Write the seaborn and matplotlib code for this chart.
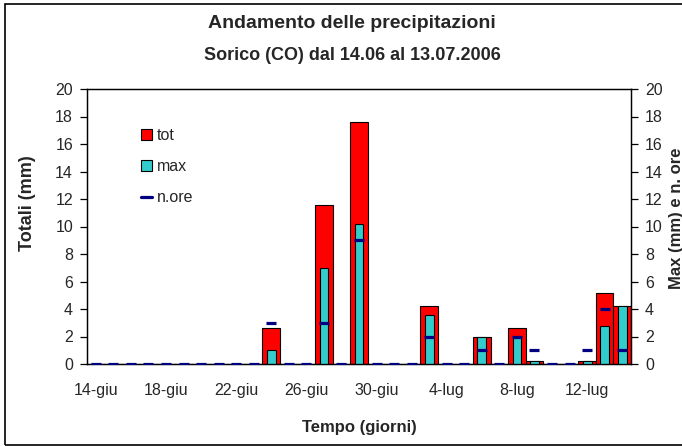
import matplotlib
matplotlib.use("Agg")
import matplotlib.pyplot as plt
import seaborn as sns
import pandas as pd
from matplotlib import font_manager
from matplotlib.patches import Patch, Rectangle
from matplotlib.lines import Line2D

# dati giornalieri 14 giugno - 14 luglio 2006
giorni = ["14-giu", "15-giu", "16-giu", "17-giu", "18-giu", "19-giu", "20-giu",
          "21-giu", "22-giu", "23-giu", "24-giu", "25-giu", "26-giu", "27-giu",
          "28-giu", "29-giu", "30-giu", "1-lug", "2-lug", "3-lug", "4-lug",
          "5-lug", "6-lug", "7-lug", "8-lug", "9-lug", "10-lug", "11-lug",
          "12-lug", "13-lug", "14-lug"]
tot = [0, 0, 0, 0, 0, 0, 0, 0, 0, 0, 2.6, 0, 0, 11.6, 0, 17.6, 0, 0, 0, 4.2,
       0, 0, 2.0, 0, 2.6, 0.2, 0, 0, 0.2, 5.2, 4.2]
max_h = [0, 0, 0, 0, 0, 0, 0, 0, 0, 0, 1.0, 0, 0, 7.0, 0, 10.2, 0, 0, 0, 3.6,
         0, 0, 2.0, 0, 1.9, 0.2, 0, 0, 0.2, 2.8, 4.2]
n_ore = [0, 0, 0, 0, 0, 0, 0, 0, 0, 0, 3, 0, 0, 3, 0, 9, 0, 0, 0, 2,
         0, 0, 1, 0, 2, 1, 0, 0, 1, 4, 1]
etichette = giorni[::4]

sns.set_style("white")
nomi = {f.name for f in font_manager.fontManager.ttflist}
narrow = "Liberation Sans Narrow" if "Liberation Sans Narrow" in nomi else "Liberation Sans"
plt.rcParams["font.family"] = ["Liberation Sans", "DejaVu Sans"]

df = pd.DataFrame({"giorno": giorni, "tot": tot, "max": max_h, "ore": n_ore})

fig = plt.figure(figsize=(6.82, 4.46), dpi=100)
ax = fig.add_axes([87 / 682, 1 - 364 / 446, 544 / 682, 275 / 446])

sns.barplot(data=df, x="giorno", y="tot", order=giorni, color="#FF0000",
            saturation=1, width=1.0, edgecolor="black", linewidth=0.8, ax=ax)
ax2 = ax.twinx()
sns.barplot(data=df, x="giorno", y="max", order=giorni, color="#33CCCC",
            saturation=1, width=0.5, edgecolor="black", linewidth=0.8, ax=ax2)
sns.scatterplot(data=df, x="giorno", y="ore", marker="_", s=55,
                color="#000080", linewidth=2.3, ax=ax2, zorder=5)

for a in (ax, ax2):
    a.set_ylim(0, 20)
    a.set_yticks(range(0, 21, 2))
    for s in a.spines.values():
        s.set_color("black")
        s.set_linewidth(0.9)
ax.set_xlim(-0.5, 30.5)
ax.set_xticks(range(0, 31, 4))
ax.set_xticklabels(etichette, fontsize=11.5, family=narrow)
ax.set_xticks([i - 0.5 for i in range(32)], minor=True)
ax.tick_params(axis="x", which="major", length=0, pad=14)
ax.tick_params(axis="x", which="minor", length=5, width=0.9, direction="out", color="black")
ax.tick_params(axis="y", length=5, width=0.9, direction="out", color="black",
               labelsize=11.5, pad=5, left=True)
ax2.tick_params(axis="y", length=5, width=0.9, direction="out", color="black",
                labelsize=11.5, pad=5, right=True)
for lab in ax.get_yticklabels() + ax2.get_yticklabels():
    lab.set_family(narrow)

ax.set_xlabel("Tempo (giorni)", fontsize=12, fontweight="bold")
ax.xaxis.set_label_coords(0.5, -0.205)
ax.set_ylabel("Totali (mm)", fontsize=13, fontweight="bold")
ax.yaxis.set_label_coords(-0.093, 0.585)
ax2.set_ylabel("Max (mm) e n. ore", fontsize=12, fontweight="bold", rotation=90)
ax2.yaxis.set_label_coords(1.069, 0.531)

handles = [Patch(facecolor="#FF0000", edgecolor="black", linewidth=0.8),
           Patch(facecolor="#33CCCC", edgecolor="black", linewidth=0.8),
           Line2D([], [], color="#000080", linewidth=2.3)]
ax2.legend(handles, ["tot", "max", "n.ore"], loc="upper left",
           bbox_to_anchor=(0.099, 0.857), frameon=False, handlelength=0.7,
           handleheight=0.7, handletextpad=0.3, labelspacing=1.0,
           borderpad=0, borderaxespad=0, prop={"family": narrow, "size": 11.5})

fig.text(0.516, 1 - 24 / 446, "Andamento delle precipitazioni", ha="center",
         va="center", fontsize=14, fontweight="bold")
fig.text(0.517, 1 - 55 / 446, "Sorico (CO) dal 14.06 al 13.07.2006", ha="center",
         va="center", fontsize=13, fontweight="bold")

fig.patches.append(Rectangle((5 / 682, 1 / 446), 1.0, 441 / 446, transform=fig.transFigure,
                             fill=False, edgecolor="black", linewidth=1.2))

fig.savefig("out.png", dpi=100)
